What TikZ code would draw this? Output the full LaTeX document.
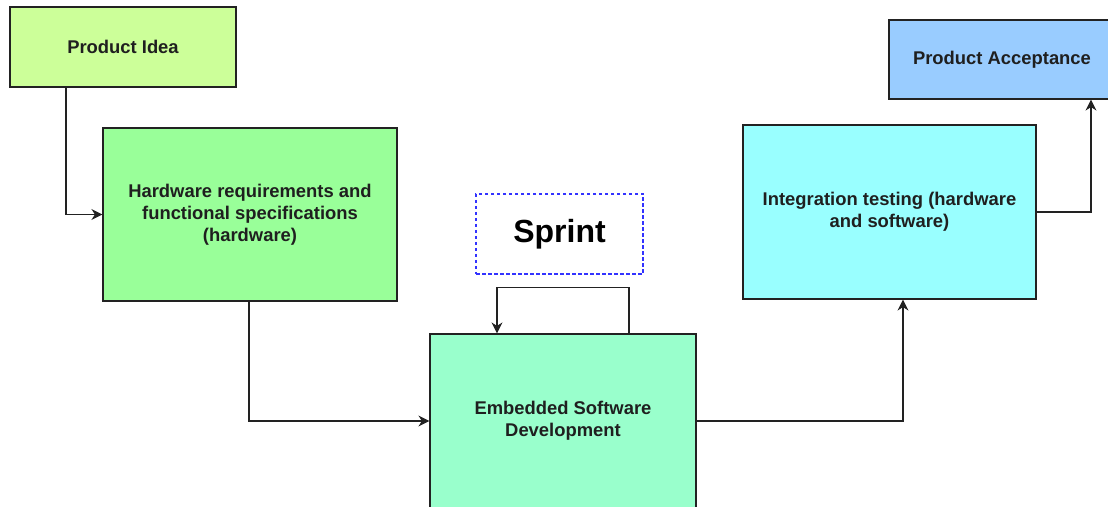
\documentclass[tikz,border=0pt]{standalone}
\usepackage{fontspec}
\setmainfont{Liberation Sans}
\usetikzlibrary{arrows.meta,calc}
\definecolor{ideafill}{HTML}{CCFF99}
\definecolor{hwfill}{HTML}{99FF99}
\definecolor{embfill}{HTML}{99FFCC}
\definecolor{intfill}{HTML}{99FFFF}
\definecolor{accfill}{HTML}{99CCFF}
\definecolor{sprintblue}{HTML}{3333FF}
\definecolor{edge}{HTML}{222222}
\tikzset{
  procbox/.style={draw=edge, line width=1.2bp, inner sep=0pt, align=center,
    font=\fontsize{18.4bp}{22bp}\selectfont\bfseries, text=black!88},
  conn/.style={draw=edge, line width=1.1bp, arrows={-Stealth[length=11pt,width=11pt,inset=3.5pt]}},
  sprintbox/.style={draw=sprintblue, line width=1.3bp, dash pattern=on 3.5bp off 2.5bp,
    inner sep=0pt, minimum width=167bp, minimum height=80bp,
    font=\fontsize{32bp}{38bp}\selectfont\bfseries}
}
\begin{document}
\begin{tikzpicture}[x=1bp,y=-1bp]
\useasboundingbox (0,0) rectangle (1108,507);
\clip (0,0) rectangle (1108,507);
\fill[white] (0,0) rectangle (1108,507);

\node[procbox, fill=ideafill, minimum width=226bp, minimum height=80bp] (idea) at (123,47) {Product Idea};
\node[procbox, fill=hwfill, minimum width=294bp, minimum height=173bp] (hw) at (250,214.5)
  {Hardware requirements and\\functional specifications\\(hardware)};
\node[sprintbox] (sprint) at (559.5,234) {Sprint};
\node[procbox, fill=embfill, minimum width=266bp, minimum height=174bp] (emb) at (563,421)
  {Embedded Software\\Development};
\node[procbox, fill=intfill, minimum width=293bp, minimum height=174bp] (integ) at (889.5,212)
  {Integration testing (hardware\\and software)};
\node[procbox, fill=accfill, minimum width=226bp, minimum height=79bp] (acc) at (1002,59.5)
  {Product Acceptance};

\draw[conn] ([xshift=-57bp]idea.south) |- (hw.west);
\draw[conn] ([xshift=-1bp]hw.south) |- (emb.west);
\draw[conn] (emb.east) -| ([xshift=13.5bp]integ.south);
\draw[conn] (integ.east) -| ([xshift=89bp]acc.south);
\draw[conn] ([xshift=66bp]emb.north) -- ++(0,-46) -| ([xshift=-66bp]emb.north);
\end{tikzpicture}
\end{document}
